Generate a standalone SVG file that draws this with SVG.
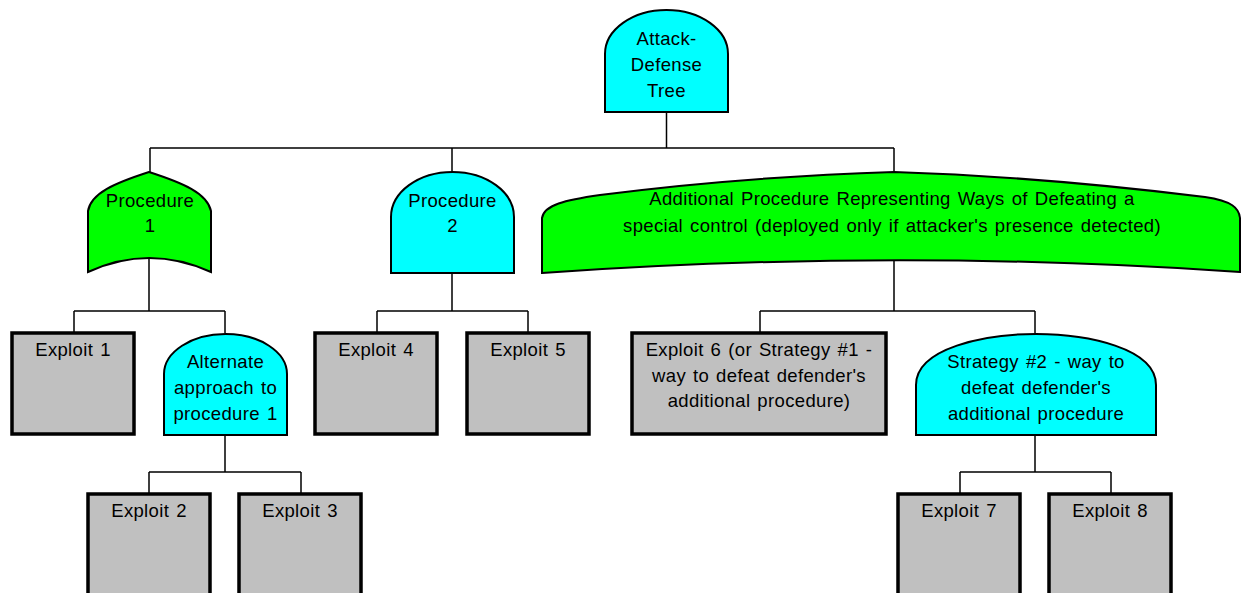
<svg xmlns="http://www.w3.org/2000/svg" width="1241" height="593" viewBox="0 0 1241 593">
<style>
.t{font-family:"Liberation Sans",Arial,sans-serif;font-size:18.5px;fill:#000;text-anchor:middle;letter-spacing:0.35px;word-spacing:1.5px}
.cy{fill:#00ffff;stroke:#000;stroke-width:2}
.gr{fill:#00ff00;stroke:#000;stroke-width:2}
.bx{fill:#c0c0c0;stroke:#000;stroke-width:3.5}
.c{fill:none;stroke:#000;stroke-width:1.5}
</style>
<rect width="1241" height="593" fill="#fff"/>
<g id="connectors">
<path class="c" d="M666.5,112 V148 M150,148 H894 M150,148 V172 M452,148 V172 M894,148 V172"/>
<path class="c" d="M149,258 V311 M74,311 H225 M74,311 V332 M225,311 V333"/>
<path class="c" d="M452,273 V311 M377,311 H528 M377,311 V332 M528,311 V332"/>
<path class="c" d="M894,260 V311 M760,311 H1035 M760,311 V332 M1035,311 V333"/>
<path class="c" d="M225,435 V472 M149,472 H301 M149,472 V493 M301,472 V493"/>
<path class="c" d="M1035,435 V472 M960,472 H1111 M960,472 V493 M1111,472 V493"/>
</g>
<g id="root">
<path class="cy" d="M605,112 V54 A61.5,44 0 0 1 728,54 V112 Z"/>
<text class="t" x="666.5" y="45">Attack-</text>
<text class="t" x="666.5" y="71">Defense</text>
<text class="t" x="666.5" y="97">Tree</text>
</g>
<g id="procedure1">
<path class="gr" d="M88,272 V211 C91,193 115,183 149,172 C183,183 207,193 211,211 V272 Q149,244 88,272 Z"/>
<text class="t" x="150" y="207">Procedure</text>
<text class="t" x="150" y="232">1</text>
</g>
<g id="procedure2">
<path class="cy" d="M391,273 V217 A61.5,45 0 0 1 514,217 V273 Z"/>
<text class="t" x="452.5" y="207">Procedure</text>
<text class="t" x="452.5" y="232">2</text>
</g>
<g id="additional">
<path class="gr" d="M542,273 V218 C544,205 565,200 600,195 C700,182 800,175 894,172 C988,175 1100,184 1205,197 C1232,201 1239,208 1240,218 V272 Q894,248 542,273 Z"/>
<text class="t" x="892" y="205">Additional Procedure Representing Ways of Defeating a</text>
<text class="t" x="892" y="232">special control (deployed only if attacker's presence detected)</text>
</g>
<g id="exploit1">
<rect class="bx" x="12" y="333" width="122" height="101"/>
<text class="t" x="73" y="356">Exploit 1</text>
</g>
<g id="alternate">
<path class="cy" d="M164,435 V374 A61.5,40 0 0 1 287,374 V435 Z"/>
<text class="t" x="225.5" y="368">Alternate</text>
<text class="t" x="225.5" y="394">approach to</text>
<text class="t" x="225.5" y="420">procedure 1</text>
</g>
<g id="exploit4">
<rect class="bx" x="315" y="333" width="122" height="101"/>
<text class="t" x="376" y="356">Exploit 4</text>
</g>
<g id="exploit5">
<rect class="bx" x="467" y="333" width="122" height="101"/>
<text class="t" x="528" y="356">Exploit 5</text>
</g>
<g id="exploit6">
<rect class="bx" x="632" y="333" width="254" height="101"/>
<text class="t" x="759" y="356">Exploit 6 (or Strategy #1 -</text>
<text class="t" x="759" y="382">way to defeat defender's</text>
<text class="t" x="759" y="407">additional procedure)</text>
</g>
<g id="strategy2">
<path class="cy" d="M916,435 V385 C916,348 985,334 1036,334 C1087,334 1156,348 1156,385 V435 Z"/>
<text class="t" x="1036" y="368">Strategy #2 - way to</text>
<text class="t" x="1036" y="394">defeat defender's</text>
<text class="t" x="1036" y="420">additional procedure</text>
</g>
<g id="exploit2">
<rect class="bx" x="88" y="494" width="122" height="110"/>
<text class="t" x="149" y="517">Exploit 2</text>
</g>
<g id="exploit3">
<rect class="bx" x="239" y="494" width="122" height="110"/>
<text class="t" x="300" y="517">Exploit 3</text>
</g>
<g id="exploit7">
<rect class="bx" x="898" y="494" width="122" height="110"/>
<text class="t" x="959" y="517">Exploit 7</text>
</g>
<g id="exploit8">
<rect class="bx" x="1049" y="494" width="122" height="110"/>
<text class="t" x="1110" y="517">Exploit 8</text>
</g>
</svg>
